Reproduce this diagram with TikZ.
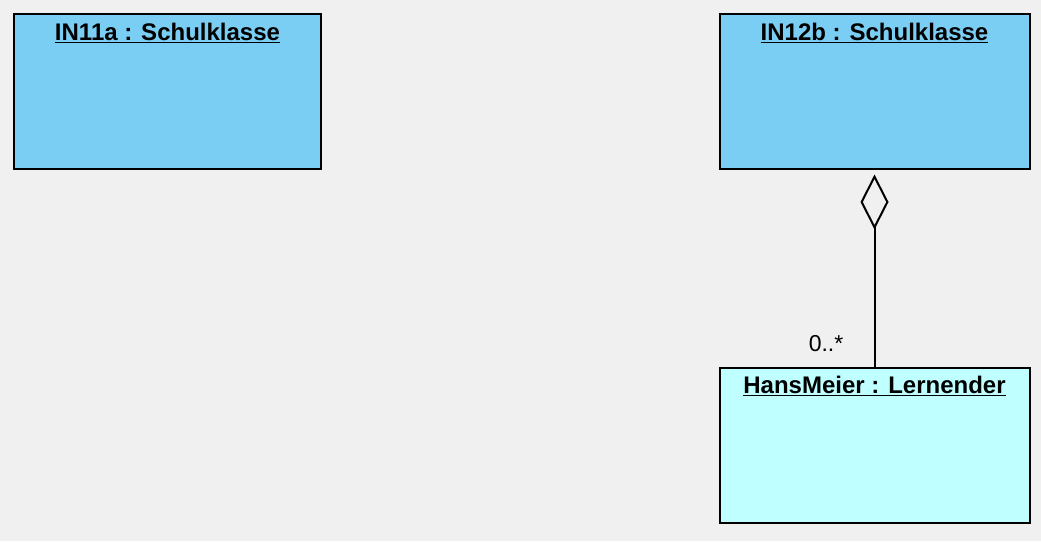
\documentclass[tikz,border=0pt]{standalone}
\usepackage{fontspec}
\setmainfont{Liberation Sans}
\usetikzlibrary{arrows.meta}
\definecolor{bgGray}{HTML}{F0F0F0}
\definecolor{classBlue}{HTML}{7ACEF4}
\definecolor{objCyan}{HTML}{C0FFFF}
\begin{document}
\begin{tikzpicture}[x=1pt,y=-1pt,
            classbox/.style = {shape=rectangle, draw, line width=2pt,
                               minimum width=310pt, minimum height=155pt,
                               inner sep=0pt},
            title/.style = {anchor=base, font=\fontsize{24}{27}\selectfont\bfseries, inner sep=0pt},
            aggr/.style = {line width=2pt, shorten >=4.5pt,
                           -{Diamond[open, length=55pt, width=28pt]}}]
        \fill[bgGray] (0,0) rectangle (1041,541);
        \useasboundingbox (0,0) rectangle (1041,541);
        \node[classbox, fill=classBlue, minimum width=307pt] (in11a) at (167.5,91.5) {};
        \node[classbox, fill=classBlue] (in12b) at (874.5,91.5) {};
        \node[classbox, fill=objCyan] (hans) at (874.5,445.5) {};
        \node[title] (in11aName) at ([yshift=-27.5pt]in11a.north) {\underline{IN11a : Schulklasse}};
        \node[title] (in12bName) at ([yshift=-27.5pt]in12b.north) {\underline{IN12b : Schulklasse}};
        \node[title] (hansName) at ([yshift=-26.5pt]hans.north) {\underline{HansMeier : Lernender}};
        \draw[aggr] (hans.north) -- (in12b.south);
        \node[anchor=base east, inner sep=0pt, font=\fontsize{23}{26}\selectfont] (mult)
            at ([xshift=-31pt,yshift=16pt]hans.north) {0..*};
\end{tikzpicture}
\end{document}
